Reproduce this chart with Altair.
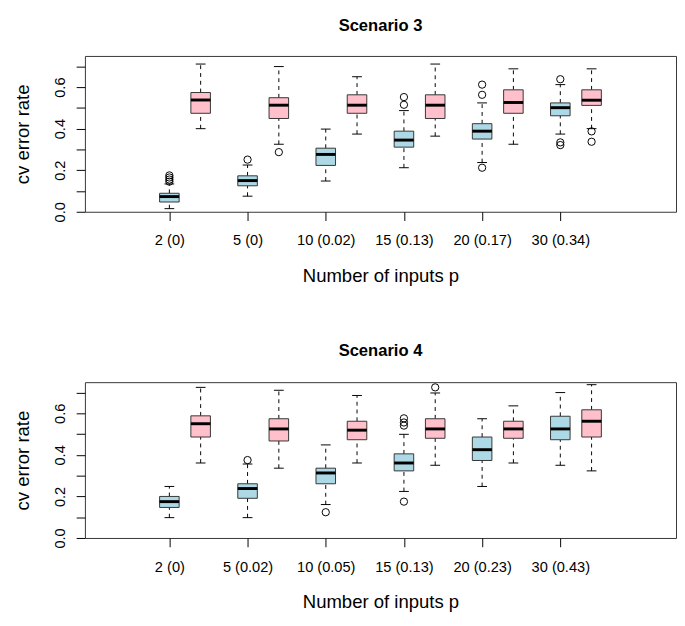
import altair as alt
import pandas as pd

# ---------------- data ----------------
positions = [1, 2, 3, 4, 5, 6]
pink_offset = 0.4

labels_s3 = ["2 (0)", "5 (0)", "10 (0.02)", "15 (0.13)", "20 (0.17)", "30 (0.34)"]
labels_s4 = ["2 (0)", "5 (0.02)", "10 (0.05)", "15 (0.13)", "20 (0.23)", "30 (0.43)"]

# Scenario 3 - blue boxes
s3_blue_lo = [0.015, 0.075, 0.148, 0.212, 0.237, 0.374]
s3_blue_q1 = [0.047, 0.125, 0.223, 0.311, 0.350, 0.462]
s3_blue_med = [0.073, 0.150, 0.276, 0.345, 0.388, 0.501]
s3_blue_q3 = [0.089, 0.173, 0.306, 0.388, 0.424, 0.524]
s3_blue_hi = [0.134, 0.225, 0.398, 0.487, 0.524, 0.612]
s3_blue_out_grp = [1, 1, 1, 1, 2, 4, 4, 5, 5, 5, 6, 6, 6]
s3_blue_out_val = [0.145, 0.155, 0.165, 0.175, 0.251, 0.515, 0.552,
                   0.563, 0.612, 0.212, 0.638, 0.334, 0.321]

# Scenario 3 - pink boxes
s3_pink_lo = [0.400, 0.325, 0.374, 0.364, 0.325, 0.400]
s3_pink_q1 = [0.474, 0.449, 0.474, 0.449, 0.474, 0.512]
s3_pink_med = [0.538, 0.513, 0.513, 0.513, 0.526, 0.537]
s3_pink_q3 = [0.574, 0.549, 0.563, 0.563, 0.587, 0.587]
s3_pink_hi = [0.711, 0.699, 0.650, 0.711, 0.688, 0.688]
s3_pink_out_grp = [2, 6, 6]
s3_pink_out_val = [0.287, 0.387, 0.337]

# Scenario 4 - blue boxes
s4_blue_lo = [0.098, 0.098, 0.161, 0.224, 0.248, 0.350]
s4_blue_q1 = [0.147, 0.191, 0.261, 0.323, 0.373, 0.473]
s4_blue_med = [0.175, 0.238, 0.313, 0.361, 0.425, 0.525]
s4_blue_q3 = [0.200, 0.261, 0.336, 0.405, 0.486, 0.586]
s4_blue_hi = [0.248, 0.356, 0.448, 0.499, 0.574, 0.700]
s4_blue_out_grp = [2, 3, 4, 4, 4, 4]
s4_blue_out_val = [0.375, 0.124, 0.576, 0.556, 0.541, 0.175]

# Scenario 4 - pink boxes
s4_pink_lo = [0.361, 0.336, 0.361, 0.350, 0.361, 0.323]
s4_pink_q1 = [0.486, 0.467, 0.473, 0.480, 0.480, 0.486]
s4_pink_med = [0.550, 0.525, 0.519, 0.525, 0.525, 0.562]
s4_pink_q3 = [0.588, 0.574, 0.562, 0.574, 0.562, 0.617]
s4_pink_hi = [0.725, 0.711, 0.686, 0.698, 0.636, 0.738]
s4_pink_out_grp = [4]
s4_pink_out_val = [0.725]

BLUE = "#ADD8E6"
PINK = "#FFC0CB"
FONT = "Liberation Sans"
BOX_HALF = 0.125
STAPLE_HALF = 0.0625
PLOT_W = 607
PLOT_H = 160


def box_frame(lo, q1, med, q3, hi, offset, method):
    rows = []
    for i, p in enumerate(positions):
        x = p + offset
        rows.append(dict(pos=x, bl=x - BOX_HALF, br=x + BOX_HALF,
                         sl=x - STAPLE_HALF, sr=x + STAPLE_HALF,
                         lo=lo[i], q1=q1[i], med=med[i], q3=q3[i], hi=hi[i],
                         method=method))
    return rows


def out_frame(grp, val, offset, method):
    return [dict(pos=g + offset, val=v, method=method) for g, v in zip(grp, val)]


def panel(title, labels, blue, pink, blue_out, pink_out):
    boxes = pd.DataFrame(box_frame(*blue, 0.0, "blue") + box_frame(*pink, pink_offset, "pink"))
    outs = pd.DataFrame(out_frame(*blue_out, 0.0, "blue") + out_frame(*pink_out, pink_offset, "pink"))

    label_js = "[" + ",".join("'%s'" % l for l in labels) + "]"
    xscale = alt.Scale(domain=[-0.08, 7.48], nice=False, zero=False)
    yscale = alt.Scale(domain=[0, 0.75], nice=False, zero=False)
    xaxis = alt.Axis(values=positions, labelExpr=label_js + "[round(datum.value) - 1]",
                     title="Number of inputs p", grid=False, domain=False,
                     tickSize=9, tickColor="black", tickWidth=1,
                     labelFont=FONT, labelFontSize=15, labelColor="black",
                     labelPadding=13, labelFlush=False, labelOverlap=False,
                     titleFont=FONT, titleFontSize=19, titleFontWeight="normal",
                     titleColor="black", titleX=PLOT_W / 2, titleY=71.6,
                     titleAlign="center", titleBaseline="alphabetic")
    yaxis = alt.Axis(values=[0, 0.1, 0.2, 0.3, 0.4, 0.5, 0.6, 0.7],
                     labelExpr="round(datum.value * 10) % 2 == 0 ? format(datum.value, '.1f') : ''",
                     title="cv error rate", grid=False, domain=False,
                     tickSize=9, tickColor="black", tickWidth=1,
                     labelFont=FONT, labelFontSize=15, labelColor="black",
                     labelAngle=270, labelAlign="center", labelBaseline="alphabetic",
                     labelPadding=12, labelFlush=False, labelOverlap=False,
                     titleFont=FONT, titleFontSize=19, titleFontWeight="normal",
                     titleColor="black", titleAngle=270, titleX=-58, titleY=PLOT_H / 2,
                     titleAlign="center", titleBaseline="alphabetic")

    base = alt.Chart(boxes)
    whisk_lo = base.mark_rule(color="black", strokeWidth=1, strokeDash=[4, 4]).encode(
        x=alt.X("pos:Q", scale=xscale, axis=xaxis),
        y=alt.Y("lo:Q", scale=yscale, axis=yaxis), y2="q1:Q")
    whisk_hi = base.mark_rule(color="black", strokeWidth=1, strokeDash=[4, 4]).encode(
        x=alt.X("pos:Q", scale=xscale, axis=xaxis),
        y=alt.Y("q3:Q", scale=yscale, axis=yaxis), y2="hi:Q")
    staple_lo = base.mark_rule(color="black", strokeWidth=1).encode(
        x=alt.X("sl:Q", scale=xscale, axis=xaxis), x2="sr:Q",
        y=alt.Y("lo:Q", scale=yscale, axis=yaxis))
    staple_hi = base.mark_rule(color="black", strokeWidth=1).encode(
        x=alt.X("sl:Q", scale=xscale, axis=xaxis), x2="sr:Q",
        y=alt.Y("hi:Q", scale=yscale, axis=yaxis))
    rect = base.mark_rect(stroke="#333333", strokeWidth=1).encode(
        x=alt.X("bl:Q", scale=xscale, axis=xaxis), x2="br:Q",
        y=alt.Y("q1:Q", scale=yscale, axis=yaxis), y2="q3:Q",
        fill=alt.Fill("method:N", scale=alt.Scale(domain=["blue", "pink"], range=[BLUE, PINK]),
                      legend=None))
    median = base.mark_rule(color="black", strokeWidth=3).encode(
        x=alt.X("bl:Q", scale=xscale, axis=xaxis), x2="br:Q",
        y=alt.Y("med:Q", scale=yscale, axis=yaxis))
    points = alt.Chart(outs).mark_point(shape="circle", filled=False, color="black",
                                        strokeWidth=1, size=56, opacity=1).encode(
        x=alt.X("pos:Q", scale=xscale, axis=xaxis),
        y=alt.Y("val:Q", scale=yscale, axis=yaxis))

    return alt.layer(whisk_lo, whisk_hi, staple_lo, staple_hi, rect, median, points).properties(
        width=PLOT_W, height=PLOT_H,
        view=alt.ViewBackground(stroke="#333333", strokeWidth=1),
        title=alt.TitleParams(title, font=FONT, fontSize=17, fontWeight="bold",
                              color="black", anchor="middle", frame="group",
                              baseline="alphabetic", offset=9))


top = panel("Scenario 3", labels_s3,
            (s3_blue_lo, s3_blue_q1, s3_blue_med, s3_blue_q3, s3_blue_hi),
            (s3_pink_lo, s3_pink_q1, s3_pink_med, s3_pink_q3, s3_pink_hi),
            (s3_blue_out_grp, s3_blue_out_val), (s3_pink_out_grp, s3_pink_out_val))
bottom = panel("Scenario 4", labels_s4,
               (s4_blue_lo, s4_blue_q1, s4_blue_med, s4_blue_q3, s4_blue_hi),
               (s4_pink_lo, s4_pink_q1, s4_pink_med, s4_pink_q3, s4_pink_hi),
               (s4_blue_out_grp, s4_blue_out_val), (s4_pink_out_grp, s4_pink_out_val))

chart = alt.vconcat(top, bottom, spacing=175, bounds="flush").properties(
    padding={"left": 5, "top": 0, "right": 0, "bottom": 0}
).configure_view(stroke="#333333", strokeWidth=1).configure(background="white")

chart.save("out.html", embed_options={"renderer": "svg", "actions": False})
